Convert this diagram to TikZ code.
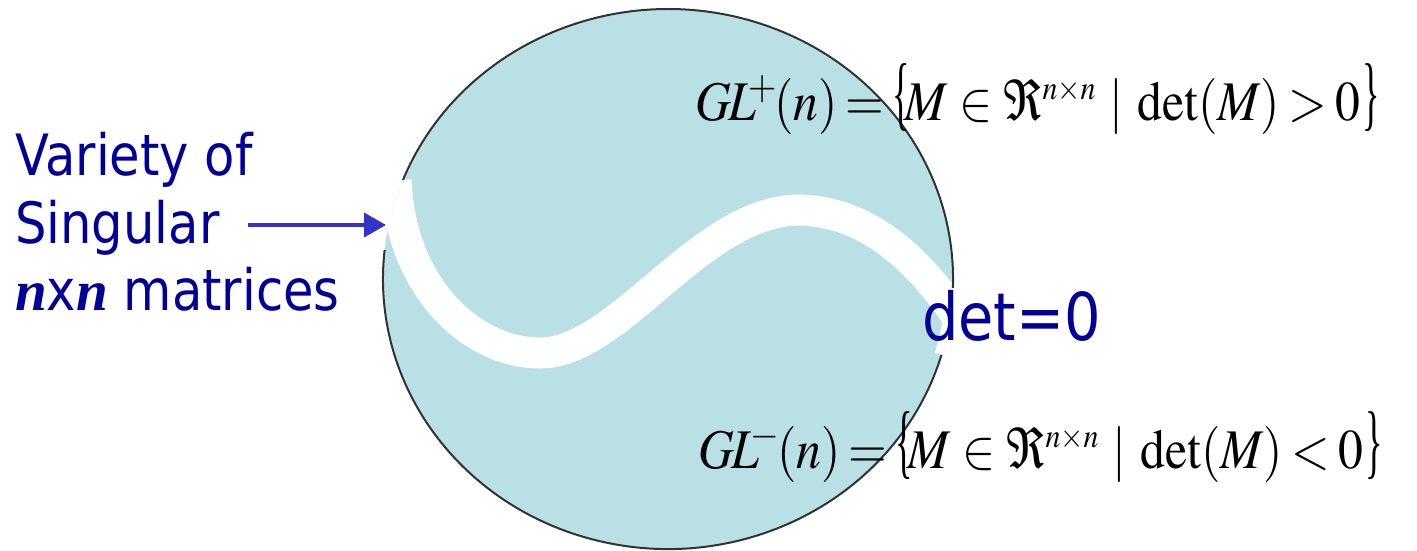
\documentclass[tikz,border=0pt]{standalone}
\usepackage{mathptmx}
\usepackage[no-math]{fontspec}
\newfontfamily\tah[FakeStretch=0.87]{DejaVu Sans}
\newfontfamily\tms{Liberation Serif}
\usetikzlibrary{arrows.meta}
\definecolor{fillc}{RGB}{185,224,228}
\definecolor{txtblue}{RGB}{0,0,153}
\definecolor{arrblue}{RGB}{51,51,204}
\definecolor{outl}{RGB}{50,50,50}
\newcommand{\tbr}[1]{\hbox{\scalebox{0.5}[1]{\tms\fontsize{82}{82}\selectfont #1}}}
\newcommand{\glset}[2]{\resizebox{685pt}{\height}{\thickmuskip=2mu\medmuskip=2mu
  $G\mkern-1mu L^{\mkern-4mu #1}\mkern-1mu(n)\mkern1mu=\mkern1mu\tbr{\{}\mkern-2mu M\mkern2mu\in\mkern2mu\Re^{\scriptscriptstyle n\times n}\mkern5mu|\mkern3mu\det(M)\mkern1mu#2\mkern1mu0\mkern1mu\tbr{\}}$}}
\tikzset{
  lbl/.style={anchor=base west, inner sep=0pt, text=txtblue, font=\tah\fontsize{57}{57}\selectfont},
  formula/.style={anchor=base west, inner sep=0pt, font=\fontsize{56}{60}\selectfont},
  band/.style={white, line width=31pt},
  rim/.style={outl, line width=2pt},
  pointer/.style={arrblue, line width=4pt, -{Triangle[length=22pt,width=24pt]}}
}
\begin{document}
\begin{tikzpicture}[x=1pt,y=-1pt]
\useasboundingbox (0,0) rectangle (1417,550);
% disc
\fill[fillc] (668,279) ellipse [x radius=285, y radius=270];
\begin{scope}
  \clip (668,279) ellipse [x radius=285, y radius=270];
  \draw[band] (396,180) .. controls (400,285) and (470,353) .. (540,353)
     .. controls (620,353) and (700,210) .. (800,210)
     .. controls (870,212) and (920,262) .. (958,318);
  \draw[white, line width=14pt] (952.8,288) arc[start angle=1.9, end angle=16.3, x radius=285, y radius=270];
\end{scope}
% outline with gaps
\draw[rim] (402.9,180.1) arc[start angle=201.5, end angle=361.9, x radius=285, y radius=270];
\draw[rim] (941.5,354.8) arc[start angle=16.3, end angle=186.2, x radius=285, y radius=270];
% left label
\node[lbl] (l1) at (15,175) {Variety of};
\node[lbl] (l2) at (15,243) {Singular};
\node[lbl] (l3) at (15,310) {{\tms\bfseries\itshape n}x{\tms\bfseries\itshape n} matrices};
\coordinate (ps) at (248,225);
\coordinate (pe) at (386,225);
\draw[pointer] (ps) -- (pe);
% det=0
\node[anchor=base west, inner sep=0pt, text=txtblue, font=\tah\fontsize{66}{66}\selectfont] (det) at (922,340) {det=0};
% formulas
\node[formula] (gp) at (695,120) {\glset{+}{>}};
\node[formula] (gm) at (698,468) {\glset{-}{<}};
\end{tikzpicture}
\end{document}
